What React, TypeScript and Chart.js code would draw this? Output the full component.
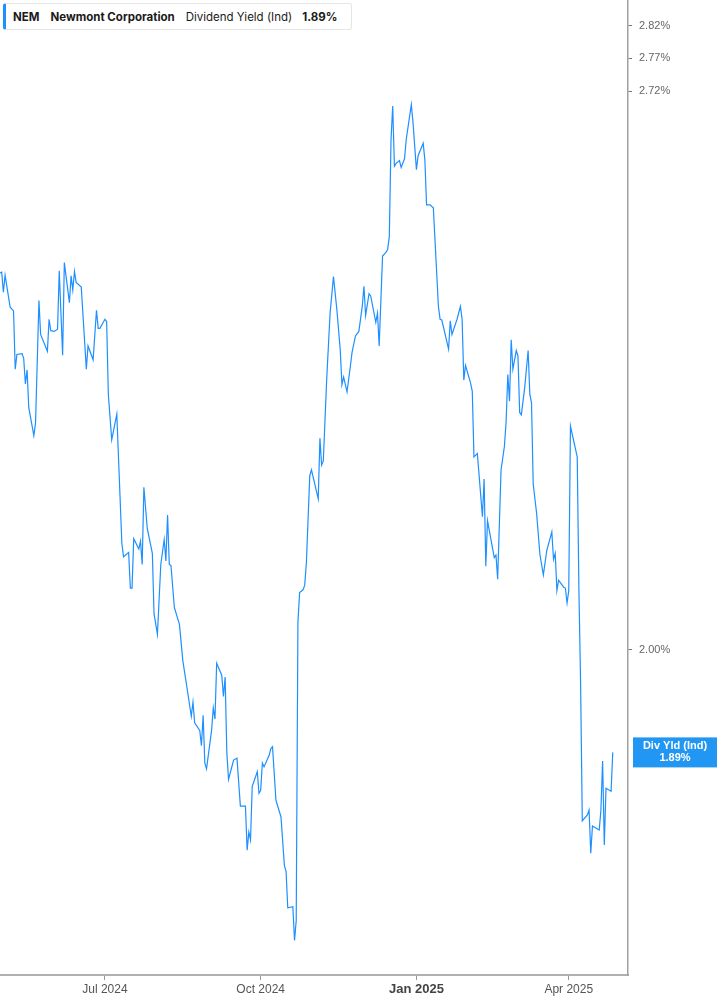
import React, { useEffect, useRef } from "react";
import { Chart, registerables } from "chart.js";

Chart.register(...registerables);

// Days since 2024-07-01 for each plotted point
const dayOffsets = [
  -62, -61, -60, -59, -56, -54, -53, -52, -49, -48,
  -47, -46, -45, -42, -41, -39, -38, -34, -33, -32,
  -30, -28, -27, -25, -24, -21, -20, -19, -18, -17,
  -14, -11, -10, -7, -5, -4, -3, 0, 1, 2,
  4, 7, 10, 11, 14, 15, 16, 17, 20, 21,
  22, 23, 25, 28, 29, 31, 33, 35, 36, 37,
  38, 39, 41, 44, 46, 49, 51, 52, 53, 56,
  57, 58, 59, 60, 63, 64, 65, 66, 69, 70,
  71, 72, 73, 76, 78, 80, 83, 84, 85, 86,
  87, 90, 91, 92, 93, 94, 97, 98, 99, 101,
  104, 106, 107, 108, 111, 112, 113, 114, 115, 117,
  118, 119, 121, 122, 126, 127, 128, 129, 131, 133,
  135, 137, 139, 140, 141, 143, 145, 146, 148, 149,
  150, 152, 153, 154, 156, 157, 160, 161, 162, 164,
  166, 167, 168, 169, 170, 171, 172, 174, 175, 177,
  178, 181, 182, 184, 185, 188, 189, 190, 192, 194,
  197, 198, 199, 203, 204, 205, 208, 210, 211, 212,
  213, 216, 217, 218, 220, 223, 224, 225, 226, 230,
  231, 232, 234, 236, 237, 238, 239, 240, 241, 243,
  244, 245, 246, 248, 250, 251, 252, 253, 255, 257,
  259, 261, 264, 265, 266, 267, 268, 271, 272, 273,
  274, 275, 279, 280, 281, 282, 285, 286, 287, 288,
  292, 293, 294, 295, 296, 299, 300,
];

// Dividend yield (Ind), %
const yieldValues = [
  2.461, 2.462, 2.435, 2.458, 2.415, 2.41, 2.334, 2.353, 2.354, 2.348,
  2.315, 2.333, 2.285, 2.25, 2.266, 2.424, 2.379, 2.357, 2.399, 2.384,
  2.383, 2.386, 2.464, 2.352, 2.475, 2.421, 2.457, 2.438, 2.463, 2.448,
  2.442, 2.334, 2.364, 2.346, 2.411, 2.387, 2.387, 2.399, 2.396, 2.302,
  2.245, 2.277, 2.12, 2.105, 2.11, 2.069, 2.069, 2.126, 2.114, 2.123,
  2.096, 2.187, 2.138, 2.109, 2.04, 2.017, 2.096, 2.125, 2.1, 2.154,
  2.096, 2.095, 2.047, 2.028, 1.988, 1.952, 1.928, 1.943, 1.921, 1.913,
  1.897, 1.929, 1.879, 1.873, 1.913, 1.937, 1.925, 1.985, 1.972, 1.949,
  1.97, 1.89, 1.862, 1.882, 1.884, 1.835, 1.835, 1.791, 1.809, 1.801,
  1.855, 1.87, 1.848, 1.851, 1.879, 1.875, 1.887, 1.894, 1.896, 1.841,
  1.824, 1.776, 1.77, 1.735, 1.736, 1.704, 1.723, 2.03, 2.064, 2.067,
  2.072, 2.098, 2.201, 2.208, 2.173, 2.247, 2.214, 2.219, 2.321, 2.407,
  2.456, 2.412, 2.359, 2.314, 2.324, 2.305, 2.338, 2.356, 2.377, 2.38,
  2.383, 2.416, 2.443, 2.404, 2.433, 2.43, 2.395, 2.407, 2.364, 2.484,
  2.489, 2.493, 2.511, 2.648, 2.698, 2.61, 2.614, 2.618, 2.608, 2.621,
  2.649, 2.7, 2.673, 2.605, 2.625, 2.643, 2.619, 2.555, 2.555, 2.551,
  2.416, 2.399, 2.398, 2.36, 2.397, 2.379, 2.399, 2.416, 2.399, 2.32,
  2.339, 2.316, 2.306, 2.224, 2.228, 2.152, 2.197, 2.094, 2.147, 2.104,
  2.107, 2.079, 2.208, 2.237, 2.268, 2.327, 2.293, 2.372, 2.334, 2.358,
  2.351, 2.279, 2.276, 2.311, 2.358, 2.302, 2.291, 2.191, 2.156, 2.107,
  2.084, 2.112, 2.134, 2.102, 2.109, 2.066, 2.078, 2.07, 2.069, 2.052,
  2.066, 2.262, 2.224, 2.067, 1.963, 1.82, 1.826, 1.831, 1.788, 1.815,
  1.811, 1.831, 1.881, 1.796, 1.853, 1.85, 1.89,
];

const xTickDays = [0, 92, 184, 274];
const xTickLabels = ["Jul 2024", "Oct 2024", "Jan 2025", "Apr 2025"];
const yTickValues = [2.0, 2.72, 2.77, 2.82];

const ticker = "NEM";
const companyName = "Newmont Corporation";
const metricName = "Dividend Yield (Ind)";
const endLabelTitle = "Div Yld (Ind)";

const LINE_COLOR = "#1e8fff";
const BOX_COLOR = "#2196f3";

export default function App() {
  const canvasRef = useRef<HTMLCanvasElement | null>(null);
  const lastValue = yieldValues[yieldValues.length - 1];

  useEffect(() => {
    document.body.style.margin = "0";
    const canvas = canvasRef.current;
    if (!canvas) return;

    const endLabelPlugin = {
      id: "endLabel",
      afterDraw(chart: any) {
        const { ctx, chartArea, scales } = chart;
        const y = scales.y.getPixelForValue(lastValue);
        const x0 = chartArea.right + 5;
        const w = chart.width - x0;
        const h = 30;
        ctx.save();
        ctx.fillStyle = BOX_COLOR;
        ctx.fillRect(x0, y - h / 2, w, h);
        ctx.fillStyle = "#ffffff";
        ctx.font = "bold 11px 'Liberation Sans', Arial, sans-serif";
        ctx.textAlign = "center";
        ctx.textBaseline = "middle";
        const cx = x0 + w / 2;
        ctx.fillText(endLabelTitle, cx, y - 6);
        ctx.fillText(lastValue.toFixed(2) + "%", cx, y + 6);
        ctx.restore();
      },
    };

    const chart = new Chart(canvas, {
      type: "line",
      data: {
        datasets: [
          {
            data: dayOffsets.map((d, i) => ({ x: d, y: yieldValues[i] })),
            borderColor: LINE_COLOR,
            borderWidth: 1.2,
            pointRadius: 0,
            tension: 0,
            fill: false,
          },
        ],
      },
      options: {
        animation: false,
        responsive: false,
        devicePixelRatio: 1,
        layout: { padding: 0 },
        plugins: {
          legend: { display: false },
          tooltip: { enabled: false },
        },
        scales: {
          x: {
            type: "linear",
            position: "bottom",
            min: -62,
            max: 309,
            afterBuildTicks: (scale: any) => {
              scale.ticks = xTickDays.map((v) => ({ value: v }));
            },
            afterFit: (scale: any) => {
              scale.height = 30;
              scale.paddingLeft = 0;
              scale.paddingRight = 0;
            },
            grid: {
              display: true,
              drawOnChartArea: false,
              drawTicks: true,
              tickLength: 5,
              color: "#999999",
              lineWidth: 1,
            },
            border: { display: true, color: "#b0b0b0", width: 2 },
            ticks: {
              autoSkip: false,
              maxRotation: 0,
              padding: 2,
              color: (ctx: any) => (ctx.tick && ctx.tick.value === 184 ? "#444444" : "#555555"),
              font: (ctx: any) =>
                ctx.tick && ctx.tick.value === 184
                  ? { family: "'Liberation Sans', Arial, sans-serif", size: 13, weight: "bold" }
                  : { family: "'Liberation Sans', Arial, sans-serif", size: 12 },
              callback: (v: any) => {
                const i = xTickDays.indexOf(Number(v));
                return i >= 0 ? xTickLabels[i] : "";
              },
            },
          },
          y: {
            type: "logarithmic",
            position: "right",
            min: 1.672,
            max: 2.86,
            afterBuildTicks: (scale: any) => {
              scale.ticks = yTickValues.map((v) => ({ value: v, major: false }));
            },
            afterFit: (scale: any) => {
              scale.width = 89;
              scale.paddingTop = 0;
              scale.paddingBottom = 0;
            },
            grid: {
              display: true,
              drawOnChartArea: false,
              drawTicks: true,
              tickLength: 4,
              color: "#777777",
            },
            border: { display: true, color: "#a0a0a0", width: 1.5 },
            ticks: {
              autoSkip: false,
              padding: 7,
              color: "#666666",
              font: { family: "'Liberation Sans', Arial, sans-serif", size: 11 },
              callback: (v: any) => Number(v).toFixed(2) + "%",
            },
          },
        },
      },
      plugins: [endLabelPlugin],
    });

    return () => {
      chart.destroy();
    };
  }, []);

  return (
    <div style={{ position: "relative", width: 717, height: 1005, background: "#ffffff" }}>
      <canvas ref={canvasRef} width={717} height={1005} style={{ display: "block" }} />
      <div
        style={{
          position: "absolute",
          left: 3,
          top: 3,
          width: 349,
          height: 27,
          boxSizing: "border-box",
          border: "1px solid #e6e6e6",
          borderLeft: "3px solid " + LINE_COLOR,
          borderRadius: 3,
          background: "#ffffff",
          display: "flex",
          alignItems: "center",
          paddingLeft: 7,
          fontFamily: "Inter, 'Noto Sans', sans-serif",
          fontSize: 11.5,
          color: "#1a1a1a",
          whiteSpace: "nowrap",
        }}
      >
        <span style={{ fontWeight: 700, marginRight: 11 }}>{ticker}</span>
        <span style={{ fontWeight: 700, marginRight: 11 }}>{companyName}</span>
        <span style={{ fontWeight: 400, marginRight: 10 }}>{metricName}</span>
        <span style={{ fontWeight: 700 }}>{lastValue.toFixed(2) + "%"}</span>
      </div>
    </div>
  );
}
